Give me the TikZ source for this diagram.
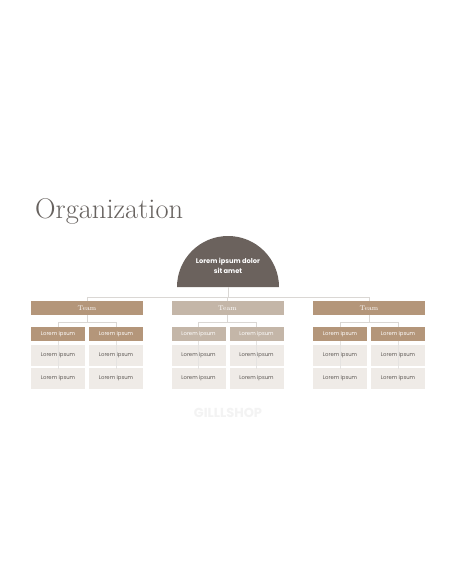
\documentclass[tikz,border=0pt]{standalone}
\usepackage{fontspec}
\newfontfamily\popp{Poppins}
\definecolor{titlegray}{HTML}{67625F}
\definecolor{headbrown}{HTML}{6B625D}
\definecolor{barbrown}{HTML}{B4967A}
\definecolor{barpale}{HTML}{C4B6A8}
\definecolor{cellgray}{HTML}{EFEBE7}
\definecolor{celltext}{HTML}{5E5955}
\definecolor{linegray}{HTML}{DAD7D4}
\definecolor{wmgray}{HTML}{F3F3F3}
\tikzset{
  link/.style={draw=linegray, line width=0.6pt},
  teambar/.style={rectangle, fill=#1, minimum width=112pt, minimum height=14pt,
    inner sep=0pt, text=white, font=\fontsize{6.8}{7}\selectfont},
  subhead/.style={rectangle, fill=#1, minimum width=54pt, minimum height=14pt,
    inner sep=0pt, text=white, font=\popp\fontsize{5.3}{6}\selectfont},
  cell/.style={rectangle, fill=cellgray, minimum width=54pt, minimum height=21pt,
    inner sep=0pt, text=celltext, font=\popp\fontsize{5.3}{6}\selectfont}
}
\begin{document}
\begin{tikzpicture}[x=1pt,y=-1pt]
	\useasboundingbox (0,0) rectangle (456,586);
	\fill[white] (0,0) rectangle (456,586);
	
	% title and head
	\node[anchor=base west, inner sep=0pt, text=titlegray, font=\fontsize{28.5}{30}\selectfont] (title) at (35,218) {Organization};
	\fill[headbrown] (177,287) arc (180:0:51pt) -- cycle;
	\node[text=white, align=center, font=\popp\bfseries\fontsize{6.7}{9.5}\selectfont] (head) at (228,266) {Lorem ipsum dolor\\sit amet};
	\coordinate (base) at (228,287);
	\coordinate (hub) at (228,297);
	\draw[link] (base) -- (hub);
	
	% teams
	\foreach \n/\cx/\col in {a/87/barbrown, b/227.5/barpale, c/369/barbrown}{
		\node[teambar=\col] (team\n) at (\cx,308) {Team};
		\node[subhead=\col] (sub\n1) at (\cx-29,333.7) {Lorem ipsum};
		\node[subhead=\col] (sub\n2) at (\cx+29,333.7) {Lorem ipsum};
		\node[cell] (cell\n1a) at (\cx-29,355.5) {Lorem ipsum};
		\node[cell] (cell\n1b) at (\cx-29,378) {Lorem ipsum};
		\node[cell] (cell\n2a) at (\cx+29,355.5) {Lorem ipsum};
		\ifx\n c
			\node[cell, font=\popp\fontsize{6.3}{7}\selectfont] (cell\n2b) at (\cx+29,378) {Lorem ipsum};
		\else
			\node[cell] (cell\n2b) at (\cx+29,378) {Lorem ipsum};
		\fi
		\draw[link] (hub) -| (team\n.north);
		\draw[link] (team\n.south) -- ++(0,7) coordinate (fork\n);
		\draw[link] (fork\n) -| (sub\n1.north);
		\draw[link] (fork\n) -| (sub\n2.north);
		\draw[link, draw=linegray!70] (sub\n1.south) -- ([yshift=-2pt]cell\n1b.north);
		\draw[link, draw=linegray!70] (sub\n2.south) -- ([yshift=-2pt]cell\n2b.north);
	}
	
	% watermark
	\node[text=wmgray, font=\popp\bfseries\fontsize{13}{14}\selectfont] (mark) at (228,413) {GILLLSHOP};
\end{tikzpicture}
\end{document}
